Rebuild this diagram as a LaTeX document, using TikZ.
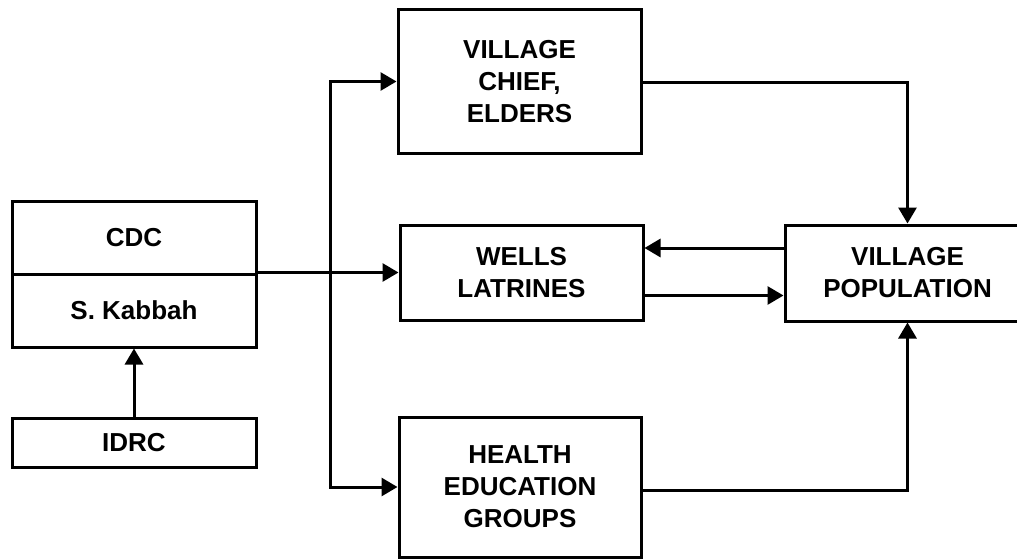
\documentclass[tikz,border=0pt]{standalone}
\usepackage{fontspec}
\setmainfont{Liberation Sans}
\usetikzlibrary{arrows.meta}

\tikzset{
  box/.style={draw, line width=3pt, rectangle, align=center, inner sep=0pt,
              font=\fontsize{26}{32}\selectfont\bfseries},
  link/.style={line width=3pt, -{Triangle[length=16pt,width=18pt]}},
  wire/.style={line width=3pt}
}

\begin{document}
\begin{tikzpicture}[x=1pt,y=-1pt]
\useasboundingbox (0,0) rectangle (1017,559);
\clip (0,0) rectangle (1017,559);

% left column: sponsor boxes
\node[box, minimum width=244pt, minimum height=73pt] (cdc) at (134,237.5) {CDC};
\node[box, minimum width=244pt, minimum height=73pt] (kab) at (134,310.5) {S. Kabbah};
\node[box, minimum width=244pt, minimum height=49pt] (idrc) at (134,442.5) {IDRC};

% middle column
\node[box, minimum width=243pt, minimum height=143pt] (chief) at (519.5,81.5) {VILLAGE\\CHIEF,\\ELDERS};
\node[box, minimum width=243pt, minimum height=95pt] (wells) at (521.5,272.5) {WELLS\\LATRINES};
\node[box, minimum width=242pt, minimum height=140pt] (health) at (520,487) {HEALTH\\EDUCATION\\GROUPS};

% right column
\node[box, minimum width=245pt, minimum height=96pt] (pop) at (907.5,273) {VILLAGE\\POPULATION};

% connectors
\draw[link] (idrc.north) -- (kab.south);
\draw[link] (kab.north east) -- (kab.north east -| wells.west);

\coordinate (bus) at (330,274);
\draw[link] (bus) |- (chief.west);
\draw[link] (bus) |- (health.west);

\draw[link] ([yshift=-1.5pt]chief.east) -| (pop.north);
\draw[link] ([yshift=-3pt]health.east) -| (pop.south);

\draw[link] ([yshift=25pt]pop.west) -- ([yshift=25pt]pop.west -| wells.east);
\draw[link] ([yshift=-23pt]wells.east) -- ([yshift=-23pt]wells.east -| pop.west);
\end{tikzpicture}
\end{document}
